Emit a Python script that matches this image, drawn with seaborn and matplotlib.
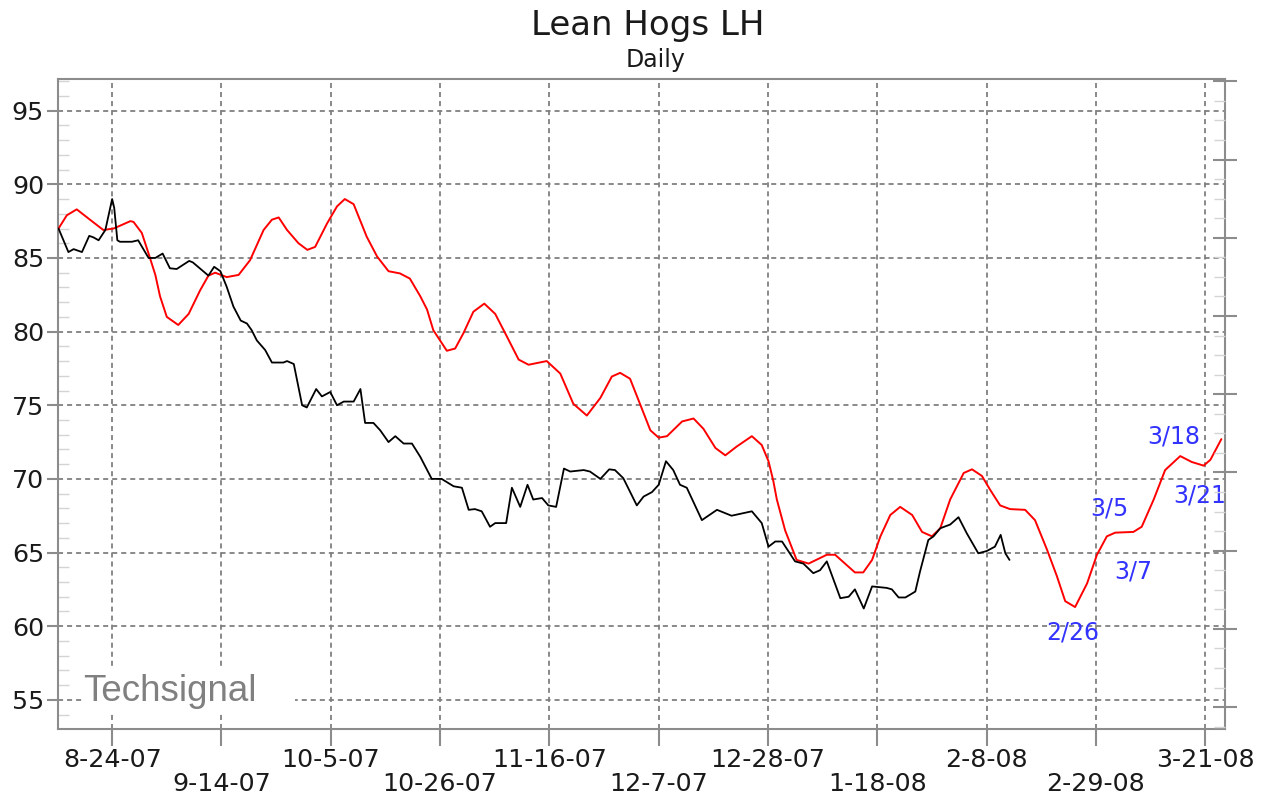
import pandas as pd
import seaborn as sns
import matplotlib.pyplot as plt
from matplotlib.patches import Rectangle
from matplotlib.ticker import MultipleLocator

start = pd.Timestamp('2007-08-24')

# black line: actual price, days after 8-24-07
price_days = [-10.3, -8.4, -7.4, -5.8, -4.4, -3.6, -2.6, -1.3, 0.0, 0.4,
              1.0, 1.5, 3.8, 5.0, 7.0, 8.3, 9.7, 11.1, 12.4, 14.8,
              15.5, 18.5, 19.6, 20.8, 22.0, 23.3, 24.7, 25.9, 26.8, 27.8,
              29.4, 30.7, 32.9, 33.6, 34.9, 36.5, 37.4, 39.2, 40.3, 41.9,
              43.2, 44.5, 46.4, 47.7, 48.6, 50.2, 51.5, 53.1, 54.4, 56.0,
              57.6, 59.2, 61.4, 63.3, 65.6, 67.2, 68.5, 69.7, 71.0, 72.6,
              73.6, 75.7, 76.8, 78.4, 79.8, 80.9, 82.6, 83.8, 85.3, 86.8,
              88.0, 90.6, 91.8, 93.8, 95.5, 96.6, 98.2, 100.8, 102.1, 103.7,
              105.0, 106.4, 107.8, 109.1, 110.4, 113.3, 116.2, 119.0, 122.9, 124.8,
              126.1, 127.4, 128.7, 131.2, 132.8, 134.7, 136.0, 137.3, 139.9, 141.5,
              142.7, 144.4, 146.0, 148.8, 149.8, 151.1, 152.4, 154.3, 155.2, 156.8,
              157.8, 159.1, 161.0, 162.6, 164.2, 166.4, 168.0, 169.6, 170.7, 171.6,
              172.4]
price_vals = [87.0, 85.4, 85.6, 85.4, 86.5, 86.4, 86.2, 86.9, 89.0, 88.4,
              86.2, 86.1, 86.1, 86.2, 85.0, 85.0, 85.3, 84.3, 84.25, 84.8,
              84.7, 83.8, 84.4, 84.1, 83.05, 81.7, 80.75, 80.55, 80.1, 79.4,
              78.75, 77.9, 77.9, 78.0, 77.8, 75.0, 74.85, 76.1, 75.6, 75.9,
              75.0, 75.25, 75.25, 76.1, 73.8, 73.8, 73.3, 72.5, 72.9, 72.4,
              72.4, 71.5, 70.0, 70.0, 69.5, 69.4, 67.9, 67.95, 67.8, 66.75,
              67.0, 67.0, 69.4, 68.1, 69.6, 68.6, 68.7, 68.2, 68.1, 70.7,
              70.5, 70.6, 70.5, 70.0, 70.65, 70.6, 70.05, 68.2, 68.8, 69.1,
              69.6, 71.2, 70.6, 69.6, 69.4, 67.2, 67.9, 67.5, 67.8, 67.0,
              65.4, 65.75, 65.75, 64.4, 64.25, 63.6, 63.8, 64.4, 61.9, 62.0,
              62.5, 61.2, 62.7, 62.6, 62.5, 61.95, 61.95, 62.35, 63.7, 65.85,
              66.1, 66.65, 66.9, 67.4, 66.3, 64.95, 65.1, 65.4, 66.2, 64.95,
              64.5]

# red line: seasonal projection
proj_days = [-10.3, -8.7, -6.8, -3.9, -1.7, 0.3, 3.5, 4.1, 5.7, 7.0,
             8.3, 9.2, 10.5, 12.7, 14.7, 16.9, 18.5, 19.8, 22.0, 24.3,
             26.5, 29.1, 30.7, 32.0, 33.6, 35.8, 37.5, 39.0, 41.3, 43.2,
             44.7, 46.4, 48.9, 50.9, 53.1, 55.3, 57.2, 59.2, 60.5, 61.7,
             64.3, 65.9, 67.5, 69.4, 71.5, 73.6, 75.5, 78.1, 80.0, 83.5,
             86.1, 88.6, 91.2, 93.8, 96.0, 97.6, 99.5, 101.4, 103.4, 105.0,
             106.6, 109.5, 111.7, 113.6, 115.9, 117.8, 120.0, 122.9, 124.8, 126.1,
             127.0, 127.7, 129.3, 131.5, 133.8, 137.3, 138.9, 142.7, 144.3, 146.0,
             147.6, 149.5, 151.4, 153.7, 155.6, 157.5, 159.1, 161.0, 163.6, 165.2,
             167.1, 168.7, 170.6, 172.5, 175.4, 177.3, 179.6, 181.5, 183.1, 185.0,
             187.3, 189.2, 191.1, 192.7, 196.2, 197.8, 200.1, 202.3, 205.2, 207.4,
             209.7, 211.0, 213.1]
proj_vals = [87.0, 87.9, 88.3, 87.5, 86.9, 87.0, 87.5, 87.45, 86.7, 85.3,
             83.85, 82.4, 81.0, 80.45, 81.2, 82.8, 83.8, 84.0, 83.7, 83.85,
             84.85, 86.9, 87.6, 87.75, 86.9, 86.0, 85.55, 85.75, 87.35, 88.5,
             89.0, 88.65, 86.45, 85.1, 84.1, 83.95, 83.6, 82.4, 81.5, 80.1,
             78.7, 78.85, 79.9, 81.35, 81.9, 81.2, 79.9, 78.1, 77.75, 78.0,
             77.15, 75.1, 74.3, 75.5, 76.95, 77.2, 76.8, 75.1, 73.3, 72.8,
             72.9, 73.9, 74.1, 73.4, 72.1, 71.6, 72.2, 72.9, 72.3, 71.2,
             69.9, 68.6, 66.5, 64.5, 64.25, 64.85, 64.85, 63.65, 63.65, 64.5,
             66.1, 67.55, 68.1, 67.55, 66.4, 66.1, 66.65, 68.6, 70.4, 70.65,
             70.2, 69.25, 68.2, 67.95, 67.9, 67.2, 65.2, 63.4, 61.7, 61.3,
             62.9, 64.85, 66.1, 66.35, 66.4, 66.75, 68.6, 70.6, 71.55, 71.15,
             70.9, 71.3, 72.7]

tick_dates = ['2007-08-24', '2007-09-14', '2007-10-05', '2007-10-26', '2007-11-16', '2007-12-07',
              '2007-12-28', '2008-01-18', '2008-02-08', '2008-02-29', '2008-03-21']
tick_labels = ['8-24-07', '9-14-07', '10-5-07', '10-26-07', '11-16-07', '12-7-07',
               '12-28-07', '1-18-08', '2-8-08', '2-29-08', '3-21-08']

note_labels = ['3/18', '3/21', '3/5', '3/7', '2/26']

price = pd.DataFrame({'date': start + pd.to_timedelta(price_days, unit='D'), 'value': price_vals})
proj = pd.DataFrame({'date': start + pd.to_timedelta(proj_days, unit='D'), 'value': proj_vals})

sns.set_theme(style='white')
plt.rcParams['font.family'] = ['DejaVu Sans']

grey = '#8c8c8c'
fig = plt.figure(figsize=(12.68, 8), dpi=100)
ax = fig.add_axes([58 / 1268, 71 / 800, 1167 / 1268, 650 / 800])

sns.lineplot(data=proj, x='date', y='value', color='#ff0000', linewidth=1.4,
             estimator=None, sort=False, ax=ax, zorder=3)
sns.lineplot(data=price, x='date', y='value', color='black', linewidth=1.3,
             estimator=None, sort=False, ax=ax, zorder=4)

ax.set_xlim(start + pd.Timedelta(days=-10.4), start + pd.Timedelta(days=213.8))
ax.set_ylim(53.02, 97.15)
ax.set_xlabel('')
ax.set_ylabel('')

ax.set_xticks(pd.to_datetime(tick_dates))
ax.set_xticklabels([t if i % 2 == 0 else '\n' + t for i, t in enumerate(tick_labels)])
for lab in ax.get_xticklabels():
    lab.set_linespacing(1.0)
ax.yaxis.set_major_locator(MultipleLocator(5))
ax.yaxis.set_minor_locator(MultipleLocator(1))

ax.set_axisbelow(True)
ax.grid(True, which='major', color='#808080', linestyle=(0, (2.8, 2.2)), linewidth=1.3)
for s in ax.spines.values():
    s.set_color(grey)
    s.set_linewidth(1.5)

ax.tick_params(axis='both', which='major', labelsize=18.3, labelcolor='#1a1a1a', color=grey, width=1.5)
ax.tick_params(axis='y', which='major', left=True, direction='out', length=8, pad=2)
ax.tick_params(axis='x', which='major', bottom=True, direction='out', length=12, pad=2)
ax.tick_params(axis='y', which='minor', left=True, direction='in', length=8, width=1, color='#d4d4d4')

twin = ax.twinx()
twin.set_ylim(-0.28, 8.03)
twin.yaxis.set_major_locator(MultipleLocator(1))
twin.yaxis.set_minor_locator(MultipleLocator(0.25))
twin.tick_params(axis='y', which='major', right=True, labelright=False, direction='inout',
                 length=17, width=1.5, color=grey)
twin.tick_params(axis='y', which='minor', right=True, direction='in', length=8, width=1, color='#d4d4d4')
for s in twin.spines.values():
    s.set_visible(False)
twin.grid(False)

# white patch behind the watermark cuts the gridlines as in the original
ax.add_patch(Rectangle((0.0206, 0.0246), 0.1825, 0.069, transform=ax.transAxes,
                       facecolor='white', edgecolor='none', zorder=1))
ax.text(0.0214, 0.057, 'Techsignal', transform=ax.transAxes, ha='left', va='center',
        fontsize=26.5, color='#808080', family=['Liberation Sans'], zorder=5)

note_pos = [(204.0, 72.85), (209.0, 68.9), (191.5, 68.0), (196.1, 63.7), (184.6, 59.6)]
for lab, (d, v) in zip(note_labels, note_pos):
    ax.text(start + pd.Timedelta(days=d), v, lab, ha='center', va='center',
            fontsize=17, color='#3333ff', zorder=6)

fig.text(648 / 1268, 1 - 25 / 800, 'Lean Hogs LH', ha='center', va='center', fontsize=24.5, color='#1a1a1a')
fig.text(656 / 1268, 1 - 60 / 800, 'Daily', ha='center', va='center', fontsize=17, color='#1a1a1a')

fig.savefig('out.png', dpi=100)
